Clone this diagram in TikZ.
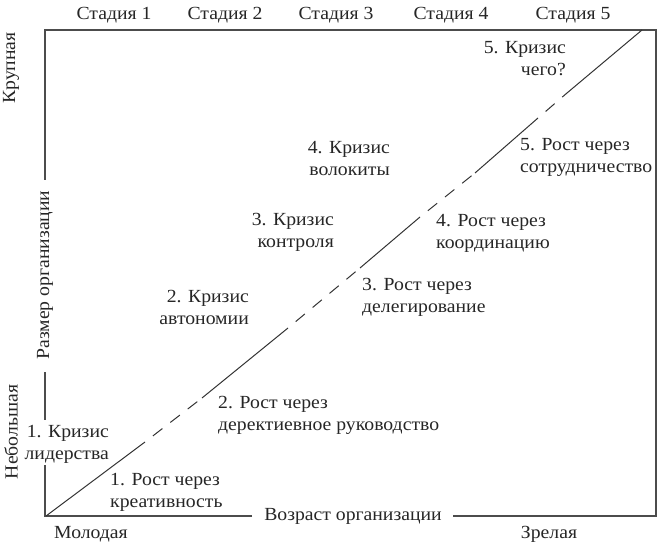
\documentclass[tikz,border=0pt]{standalone}
\usepackage{fontspec}
\setmainfont{Liberation Serif}[FakeStretch=1.065]
\begin{document}
\begin{tikzpicture}[x=1pt,y=-1pt,
  txt/.style={font=\fontsize{18.5}{22.5}\selectfont, text=black!85, inner sep=0pt},
  lbl/.style={txt, align=left, anchor=north west},
  rlbl/.style={txt, align=right, anchor=north east},
  frame/.style={draw=black!70, line width=1.3pt},
  diag/.style={draw=black!80, line width=1pt},
  dsh/.style={diag, dash pattern=on 12pt off 10pt, dash phase=12pt}]
\useasboundingbox (0,0) rectangle (661,545);
% frame corners
\coordinate (tl) at (45,30);
\coordinate (tr) at (656,30);
\coordinate (br) at (656,516);
\coordinate (o) at (45,516);
\coordinate (bl1) at (252,516);
\coordinate (br1) at (453,516);
\coordinate (l1) at (45,180);
\coordinate (l2) at (45,372);
\coordinate (l3) at (45,420);
\coordinate (l4) at (45,465);
% stage labels
\node[txt, anchor=base] (s1) at (114,20) {Стадия 1};
\node[txt, anchor=base] (s2) at (225,20) {Стадия 2};
\node[txt, anchor=base] (s3) at (336,20) {Стадия 3};
\node[txt, anchor=base] (s4) at (451,20) {Стадия 4};
\node[txt, anchor=base] (s5) at (573,20) {Стадия 5};
% axes labels
\node[txt] (age) at (353,516) {Возраст организации};
\node[txt, rotate=90] (size) at (45,275) {Размер организации};
\node[txt, rotate=90] (big) at (11,68) {Крупная};
\node[txt, rotate=90] (small) at (11,432) {Небольшая};
\node[txt] (young) at (91,534) {Молодая};
\node[txt] (old) at (549,534) {Зрелая};
% frame
\draw[frame] (l1) -- (tl) -- (tr) -- (br) -- (br1);
\draw[frame] (bl1) -- (o) -- (l4);
\draw[frame] (l2) -- (l3);
% diagonal
\coordinate (p0) at (46,516);
\coordinate (p1) at (145,442);
\coordinate (p2) at (202,398);
\coordinate (p3) at (288,328);
\coordinate (p4) at (360,268);
\coordinate (p5) at (420,217);
\coordinate (p6) at (475,173);
\coordinate (p7) at (538,118);
\coordinate (p8) at (567,93);
\coordinate (p9) at (642,30);
\draw[diag] (p0) -- (p1);
\draw[dsh] (p1) -- (p2);
\draw[diag] (p2) -- (p3);
\draw[dsh] (p3) -- (p4);
\draw[diag] (p4) -- (p5);
\draw[dsh] (p5) -- (p6);
\draw[diag] (p6) -- (p7);
\draw[dsh] (p7) -- (p8);
\draw[diag] (p8) -- (p9);
% crisis labels
\node[rlbl] (c1) at (109,425) {1. Кризис\\лидерства};
\node[rlbl] (c2) at (249,290) {2. Кризис\\автономии};
\node[rlbl] (c3) at (334,213) {3. Кризис\\контроля};
\node[rlbl] (c4) at (390,141) {4. Кризис\\волокиты};
\node[rlbl] (c5) at (566,41) {5. Кризис\\чего?};
% growth labels
\node[lbl] (g1) at (110,473) {1. Рост через\\креативность};
\node[lbl] (g2) at (218,396) {2. Рост через\\деректиевное руководство};
\node[lbl] (g3) at (362,278) {3. Рост через\\делегирование};
\node[lbl] (g4) at (436,214) {4. Рост через\\координацию};
\node[lbl] (g5) at (520,138) {5. Рост через\\сотрудничество};
\end{tikzpicture}
\end{document}
